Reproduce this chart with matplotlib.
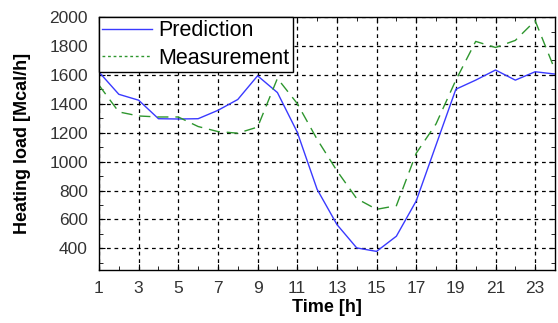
import numpy as np
import matplotlib.pyplot as plt
from matplotlib.lines import Line2D
from matplotlib.ticker import MultipleLocator

plt.rcParams["font.family"] = ["Liberation Sans", "DejaVu Sans"]

# Dados (carga térmica por hora)
horas = np.arange(1, 25)
previsao = [1620, 1466, 1425, 1297, 1295, 1297, 1355, 1430, 1594, 1478, 1204, 809,
            565, 403, 379, 484, 728, 1115, 1501, 1564, 1634, 1564, 1622, 1606]
medicao = [1529, 1344, 1316, 1309, 1309, 1243, 1208, 1197, 1239, 1576, 1402, 1155,
           937, 744, 670, 695, 1058, 1261, 1564, 1832, 1790, 1839, 1975, 1634]

COR_PREV = "#3a3aff"
COR_MED = "#2e962e"

fig = plt.figure(figsize=(5.58, 3.23), dpi=100)
ax = fig.add_axes([0.1774, 0.164, 0.8172, 0.783])

ax.plot(horas, previsao, color=COR_PREV, lw=1.0)
ax.plot(horas, medicao, color=COR_MED, lw=1.0, ls=(0, (8, 5)))

ax.set_xlim(1, 24)
ax.set_ylim(250, 2000)
ax.xaxis.set_minor_locator(MultipleLocator(1))
ax.yaxis.set_minor_locator(MultipleLocator(100))
ax.set_xticks(np.arange(1, 24, 2))
ax.set_yticks(np.arange(400, 2001, 200))
ax.grid(True, which="major", color="black", ls=(0, (3, 3)), lw=0.9)
ax.tick_params(which="both", direction="in", top=True, right=True,
               labelsize=12.5, labelcolor="#333333", length=4, pad=8)
ax.tick_params(which="minor", length=3)
for s in ax.spines.values():
    s.set_linewidth(1.0)

ax.set_xlabel("Time [h]", fontsize=13, fontweight="bold", labelpad=2)
ax.set_ylabel("Heating load [Mcal/h]", fontsize=13, fontweight="bold", labelpad=13)

# legenda com traço curto para a medição, como no original
handles = [Line2D([], [], color=COR_PREV, lw=1.0),
           Line2D([], [], color=COR_MED, lw=1.0, ls=(0, (2, 2)))]
leg = ax.legend(handles, ["Prediction", "Measurement"], loc="upper left",
                fontsize=15.5, frameon=True, fancybox=False, framealpha=1,
                edgecolor="black", borderaxespad=0, borderpad=0.15,
                handlelength=2.3, handletextpad=0.3, labelspacing=0.3)
leg.get_frame().set_linewidth(1.0)

fig.savefig("out.png", dpi=100, facecolor="white")
